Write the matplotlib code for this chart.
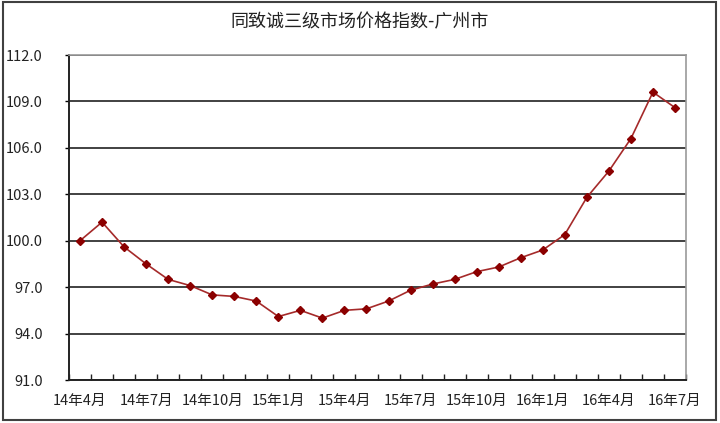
import numpy as np
import matplotlib
matplotlib.use("Agg")
import matplotlib.pyplot as plt
from matplotlib.patches import Rectangle

plt.rcParams["font.family"] = ["Noto Sans CJK SC", "DejaVu Sans"]

# Data (monthly, 14年4月 .. 16年7月)
months = [
    "14年4月", "14年5月", "14年6月", "14年7月", "14年8月", "14年9月",
    "14年10月", "14年11月", "14年12月", "15年1月", "15年2月", "15年3月",
    "15年4月", "15年5月", "15年6月", "15年7月", "15年8月", "15年9月",
    "15年10月", "15年11月", "15年12月", "16年1月", "16年2月", "16年3月",
    "16年4月", "16年5月", "16年6月", "16年7月",
]
index_values = [
    100.0, 101.2, 99.6, 98.5, 97.5, 97.1,
    96.5, 96.4, 96.1, 95.1, 95.5, 95.0,
    95.5, 95.6, 96.1, 96.8, 97.2, 97.5,
    98.0, 98.3, 98.9, 99.4, 100.4, 102.8,
    104.5, 106.6, 109.6, 108.6,
]
yticks = [91.0, 94.0, 97.0, 100.0, 103.0, 106.0, 109.0, 112.0]
title = "同致诚三级市场价格指数-广州市"

fig = plt.figure(figsize=(7.2, 4.23), dpi=100)
W, H = 720, 423
ax = fig.add_axes([69 / W, 1 - 380 / H, (686 - 69) / W, (380 - 55) / H])

x = np.arange(len(months))
ax.plot(x, index_values, color="#a52a2a", lw=1.2, marker="D", ms=4.5,
        mfc="#8b0000", mec="#8b0000", zorder=3)

ax.set_xlim(-0.5, len(months) - 0.5)
ax.set_ylim(91, 112)
ax.set_yticks(yticks)
ax.set_yticklabels([f"{v:.1f}" for v in yticks], fontsize=10.5, color="#222222")
ax.tick_params(axis="y", length=3, direction="out", pad=16, width=1)

label_pos = x[::3]
ax.set_xticks(label_pos)
ax.set_xticklabels([months[i] for i in label_pos], fontsize=10.5, color="#222222")
ax.tick_params(axis="x", which="major", length=0, pad=10)
ax.set_xticks(np.arange(len(months) + 1) - 0.5, minor=True)
ax.tick_params(axis="x", which="minor", length=4, direction="in", width=1,
               color="#222222")

ax.yaxis.grid(True, color="#333333", lw=1.3)
ax.set_axisbelow(True)
for s in ["top", "right"]:
    ax.spines[s].set_color("#999999")
    ax.spines[s].set_linewidth(1.2)
for s in ["left", "bottom"]:
    ax.spines[s].set_color("#222222")
    ax.spines[s].set_linewidth(1.4)

fig.text(360 / W, 1 - 22 / H, title, ha="center", va="center", fontsize=13,
         color="#222222")

fig.patches.append(Rectangle((3 / W, 1 - 420 / H), (716 - 3) / W, (420 - 2) / H,
                             transform=fig.transFigure, fill=False,
                             ec="#404040", lw=1.5))

fig.savefig("out.png", dpi=100)
